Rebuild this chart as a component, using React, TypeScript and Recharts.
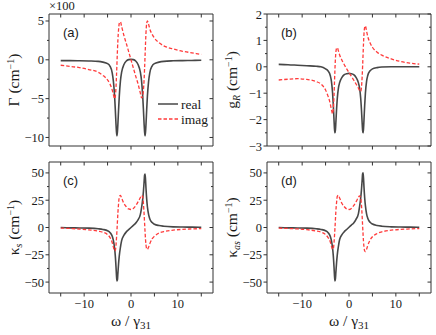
import { ReactNode } from "react";
import { LineChart, Line, XAxis, YAxis, Legend } from "recharts";

// detuning ω / γ31, sampled more densely around the two resonances at ±3
const omega = [
  -15, -13, -11, -9, -7, -6, -5, -4.5, -4, -3.75, -3.5, -3.35, -3.2, -3.1, -3,
  -2.9, -2.8, -2.65, -2.5, -2.25, -2, -1.5, -1, -0.5, 0, 0.5, 1, 1.5, 2, 2.25,
  2.5, 2.65, 2.8, 2.9, 3, 3.1, 3.2, 3.35, 3.5, 3.75, 4, 4.5, 5, 6, 7, 9, 11, 13,
  15,
];

// (a) Γ, in units of 100 cm^-1
const gammaReal = [
  -0.1, -0.1, -0.12, -0.15, -0.2, -0.3, -0.5, -0.8, -1.7, -2.8, -4.7, -6.4,
  -8.3, -9.3, -9.8, -9.3, -8.3, -6.4, -4.7, -2.7, -1.6, -0.6, -0.15, 0.02, 0.05,
  0.02, -0.15, -0.6, -1.6, -2.7, -4.7, -6.4, -8.3, -9.3, -9.8, -9.3, -8.3, -6.4,
  -4.7, -2.8, -1.7, -0.8, -0.5, -0.3, -0.2, -0.13, -0.1, -0.08, -0.06,
];
const gammaImag = [
  -0.7, -0.85, -1.0, -1.25, -1.6, -2.0, -2.6, -3.1, -3.9, -4.5, -5.0, -4.7,
  -3.5, -2.1, -0.5, 1.1, 2.5, 3.9, 4.7, 4.9, 4.3, 3.1, 2.1, 1.05, 0, -1.05,
  -2.1, -3.1, -4.3, -4.9, -4.7, -3.9, -2.5, -1.1, 0.5, 2.1, 3.5, 4.7, 5.0, 4.6,
  4.0, 3.3, 2.8, 2.2, 1.8, 1.4, 1.1, 0.9, 0.7,
];

// (b) g_R
const gainReal = [
  0.09, 0.08, 0.06, 0.04, 0.02, 0.0, -0.08, -0.15, -0.33, -0.55, -1.0, -1.45,
  -2.0, -2.35, -2.5, -2.4, -2.1, -1.6, -1.2, -0.8, -0.6, -0.4, -0.3, -0.26,
  -0.25, -0.26, -0.3, -0.4, -0.6, -0.8, -1.2, -1.6, -2.1, -2.4, -2.5, -2.35,
  -2.0, -1.45, -1.0, -0.55, -0.33, -0.15, -0.08, -0.03, -0.01, 0, 0, 0, 0,
];
const gainImag = [
  -0.5, -0.47, -0.45, -0.48, -0.56, -0.65, -0.88, -1.1, -1.4, -1.62, -1.78,
  -1.6, -1.1, -0.6, -0.1, 0.3, 0.55, 0.7, 0.72, 0.6, 0.45, 0.25, 0.08, -0.08,
  -0.22, -0.36, -0.5, -0.65, -0.8, -0.9, -0.93, -0.8, -0.4, 0.0, 0.45, 0.9,
  1.25, 1.5, 1.55, 1.35, 1.15, 0.9, 0.74, 0.55, 0.44, 0.3, 0.2, 0.14, 0.1,
];

// (c) κ_s
const kappaSReal = [
  0, -0.3, -0.4, -0.6, -1.2, -1.8, -3, -4.5, -8, -12, -19, -26, -36, -44, -49,
  -48, -42, -33, -26, -18, -12, -7, -4, -2, 0, 2, 4, 7, 12, 18, 26, 33, 42, 48,
  49, 44, 36, 26, 19, 12, 8, 4.5, 3, 1.8, 1.2, 0.6, 0.4, 0.3, 0.2,
];
const kappaSImag = [
  -0.5, -0.9, -1.4, -2.2, -3.3, -4.3, -6.5, -9, -14, -18, -21.5, -21, -16, -10,
  -3, 5, 13, 22, 28, 29.5, 27, 22, 19, 17, 16.5, 17.5, 20, 23.5, 27.5, 29.5, 28,
  22, 12, 4, -4, -11, -16, -19.5, -20, -18, -15, -10.5, -8, -5, -3.7, -2.4,
  -1.7, -1.3, -1.0,
];

// (d) κ_as
const kappaAsReal = [
  0, -0.3, -0.4, -0.6, -1.2, -1.8, -3, -4.5, -8, -12, -19, -26, -36, -44, -49,
  -47, -41, -32, -25, -17, -11, -6.5, -3.8, -1.8, 0.2, 2.2, 4.2, 7.5, 12.5, 19,
  27, 34, 43, 49, 50, 45, 37, 27, 20, 12.5, 8.5, 4.8, 3.2, 1.9, 1.2, 0.6, 0.4,
  0.3, 0.2,
];
const kappaAsImag = [
  -0.6, -0.9, -1.3, -2.0, -3.2, -4.2, -6.5, -9, -13, -17, -20, -19.5, -14, -8,
  -1, 7, 15, 23, 28.5, 29.5, 27, 22, 19, 17, 16.5, 17.5, 20, 23.5, 27.5, 29, 27,
  21, 11, 2, -6, -13, -18, -21.5, -22, -20, -16.5, -11.5, -8.5, -5.5, -4, -2.5,
  -1.7, -1.3, -1.0,
];

const xTicks = [-15, -10, -5, 0, 5, 10, 15];
const xLabelled = [-10, 0, 10];
const seriesNames = ["real", "imag"];

const AXIS = "#333";
const TEXT = "#1a1a1a";
const SERIF = "'Liberation Serif', 'DejaVu Serif', serif";
const SANS = "'Liberation Sans', Arial, sans-serif";
const REAL = "#474747";
const IMAG = "#ff3b3b";
const IMAG_DASH = "3.5 2";

const serif = (size: number) => ({ fontFamily: SERIF, fontSize: size, fill: TEXT });

const fmt = (v: number) => (v < 0 ? `\u2212${Math.abs(v)}` : `${v}`);

// tick mark + optional label, drawn from the axis line position
const Tick = (props: any) => {
  const { x, y, payload, side, major, labelled } = props;
  const v = payload.value as number;
  const len = major.includes(v) ? 3.5 : 2;
  const show = labelled.includes(v);
  let mark;
  let label = null;
  if (side === "left") {
    mark = <line x1={x} y1={y} x2={x - len} y2={y} />;
    if (show)
      label = (
        <text x={x - 5} y={y + 4.5} textAnchor="end" stroke="none" style={serif(12.5)}>
          {fmt(v)}
        </text>
      );
  } else if (side === "right") {
    mark = <line x1={x} y1={y} x2={x - len} y2={y} />;
  } else if (side === "top") {
    mark = <line x1={x} y1={y} x2={x} y2={y + len} />;
  } else {
    mark = <line x1={x} y1={y} x2={x} y2={y + len} />;
    if (show)
      label = (
        <text x={x} y={y + 15} textAnchor="middle" stroke="none" style={serif(12.5)}>
          {fmt(v)}
        </text>
      );
  }
  return (
    <g stroke={AXIS} strokeWidth={1}>
      {mark}
      {label}
    </g>
  );
};

const cmInv = (
  <>
    {" (cm"}
    <tspan dy={-5} fontSize={10}>
      {"\u22121"}
    </tspan>
    <tspan dy={5}>)</tspan>
  </>
);

const titles: Record<string, ReactNode> = {
  a: <>Γ{cmInv}</>,
  b: (
    <>
      g
      <tspan dy={3} fontSize={10} fontStyle="italic">
        R
      </tspan>
      <tspan dy={-3}> </tspan>
      {cmInv}
    </>
  ),
  c: (
    <>
      κ
      <tspan dy={3} fontSize={10} fontStyle="italic">
        s
      </tspan>
      <tspan dy={-3}> </tspan>
      {cmInv}
    </>
  ),
  d: (
    <>
      κ
      <tspan dy={3} fontSize={10} fontStyle="italic">
        as
      </tspan>
      <tspan dy={-3}> </tspan>
      {cmInv}
    </>
  ),
};

interface PanelProps {
  id: string;
  re: number[];
  im: number[];
  yDomain: [number, number];
  yMajor: number[];
  yMinor: number[];
  top: boolean;
  scaleNote?: boolean;
  legend?: boolean;
}

const Panel = ({ id, re, im, yDomain, yMajor, yMinor, top, scaleNote, legend }: PanelProps) => {
  const data = omega.map((w, i) => ({ w, re: re[i], im: im[i] }));
  const height = top ? 160 : 175;
  // axes are 1px wide/high, so the plot box is margin + 1 on each side
  const margin = top
    ? { top: 13, right: 4, bottom: 13, left: 48 }
    : { top: 1, right: 4, bottom: 41, left: 48 };
  const yTicks = [...yMajor, ...yMinor].sort((p, q) => p - q);

  const yTitle = (p: any) => {
    const { x: ax, y, width: aw, height: h } = p.viewBox;
    const x = ax + aw;
    const cy = y + h / 2;
    return (
      <g>
        <text
          x={x - 30}
          y={cy}
          transform={`rotate(-90 ${x - 30} ${cy})`}
          textAnchor="middle"
          style={serif(15.5)}
        >
          {titles[id]}
        </text>
        <text
          x={x + 14}
          y={y + 23}
          style={{ fontFamily: SANS, fontSize: 13, fill: TEXT }}
        >
          ({id})
        </text>
        {scaleNote && (
          <text x={x} y={y - 4} style={serif(12.5)}>
            ×100
          </text>
        )}
      </g>
    );
  };

  const xTitle = (p: any) => {
    const { x, y, width } = p.viewBox;
    return (
      <text x={x + width / 2} y={y + 33} textAnchor="middle" style={serif(15.5)}>
        ω / γ
        <tspan dy={3} fontSize={11}>
          31
        </tspan>
      </text>
    );
  };

  return (
    <LineChart width={218} height={height} data={data} margin={margin}>
      <XAxis
        dataKey="w"
        type="number"
        domain={[-17.5, 17.5]}
        allowDataOverflow
        ticks={xTicks}
        interval={0}
        height={1}
        tickSize={0}
        tickMargin={0}
        tickLine={false}
        axisLine={{ stroke: AXIS }}
        tick={(p: any) => (
          <Tick {...p} side="bottom" major={xTicks} labelled={top ? [] : xLabelled} />
        )}
        label={top ? undefined : xTitle}
      />
      <XAxis
        xAxisId="top"
        orientation="top"
        dataKey="w"
        type="number"
        domain={[-17.5, 17.5]}
        allowDataOverflow
        ticks={xTicks}
        interval={0}
        height={1}
        tickSize={0}
        tickMargin={0}
        tickLine={false}
        axisLine={{ stroke: AXIS }}
        tick={(p: any) => <Tick {...p} side="top" major={xTicks} labelled={[]} />}
      />
      <YAxis
        type="number"
        domain={yDomain}
        allowDataOverflow
        ticks={yTicks}
        interval={0}
        width={1}
        tickSize={0}
        tickMargin={0}
        tickLine={false}
        axisLine={{ stroke: AXIS }}
        tick={(p: any) => <Tick {...p} side="left" major={yMajor} labelled={yMajor} />}
        label={yTitle}
      />
      <YAxis
        yAxisId="right"
        orientation="right"
        type="number"
        domain={yDomain}
        allowDataOverflow
        ticks={yTicks}
        interval={0}
        width={1}
        tickSize={0}
        tickMargin={0}
        tickLine={false}
        axisLine={{ stroke: AXIS }}
        tick={(p: any) => <Tick {...p} side="right" major={yMajor} labelled={[]} />}
      />
      {legend && (
        <Legend
          layout="horizontal"
          verticalAlign="middle"
          align="center"
          wrapperStyle={{ left: 156, top: 96, width: 62, height: 32 }}
          content={({ payload }: any) => (
            <svg width={62} height={32}>
              {seriesNames.map((name, i) => {
                const entry = (payload || []).find((e: any) => e.value === name);
                if (!entry) return null;
                return (
                  <g key={name}>
                    <line
                      x1={2}
                      y1={8 + i * 15}
                      x2={22}
                      y2={8 + i * 15}
                      stroke={entry.color}
                      strokeWidth={1.5}
                      strokeDasharray={name === "imag" ? IMAG_DASH : undefined}
                    />
                    <text x={25} y={13 + i * 15} style={serif(13.5)}>
                      {name}
                    </text>
                  </g>
                );
              })}
            </svg>
          )}
        />
      )}
      <Line
        type="monotone"
        dataKey="re"
        name={seriesNames[0]}
        stroke={REAL}
        strokeWidth={1.6}
        dot={false}
        isAnimationActive={false}
      />
      <Line
        type="monotone"
        dataKey="im"
        name={seriesNames[1]}
        stroke={IMAG}
        strokeWidth={1.3}
        strokeDasharray={IMAG_DASH}
        dot={false}
        isAnimationActive={false}
      />
    </LineChart>
  );
};

const App = () => {
  return (
    <div
      style={{
        position: "absolute",
        left: 0,
        top: 0,
        width: 436,
        height: 335,
        background: "#fff",
      }}
    >
      <div style={{ position: "absolute", left: 0, top: 0 }}>
        <Panel
          id="a"
          re={gammaReal}
          im={gammaImag}
          yDomain={[-11.1, 5.9]}
          yMajor={[-10, -5, 0, 5]}
          yMinor={[-7.5, -2.5, 2.5]}
          top
          scaleNote
          legend
        />
      </div>
      <div style={{ position: "absolute", left: 218, top: 0 }}>
        <Panel
          id="b"
          re={gainReal}
          im={gainImag}
          yDomain={[-3, 2]}
          yMajor={[-3, -2, -1, 0, 1, 2]}
          yMinor={[-2.5, -1.5, -0.5, 0.5, 1.5]}
          top
        />
      </div>
      <div style={{ position: "absolute", left: 0, top: 160 }}>
        <Panel
          id="c"
          re={kappaSReal}
          im={kappaSImag}
          yDomain={[-60, 60]}
          yMajor={[-50, -25, 0, 25, 50]}
          yMinor={[-37.5, -12.5, 12.5, 37.5]}
          top={false}
        />
      </div>
      <div style={{ position: "absolute", left: 218, top: 160 }}>
        <Panel
          id="d"
          re={kappaAsReal}
          im={kappaAsImag}
          yDomain={[-60, 60]}
          yMajor={[-50, -25, 0, 25, 50]}
          yMinor={[-37.5, -12.5, 12.5, 37.5]}
          top={false}
        />
      </div>
    </div>
  );
};

export default App;
